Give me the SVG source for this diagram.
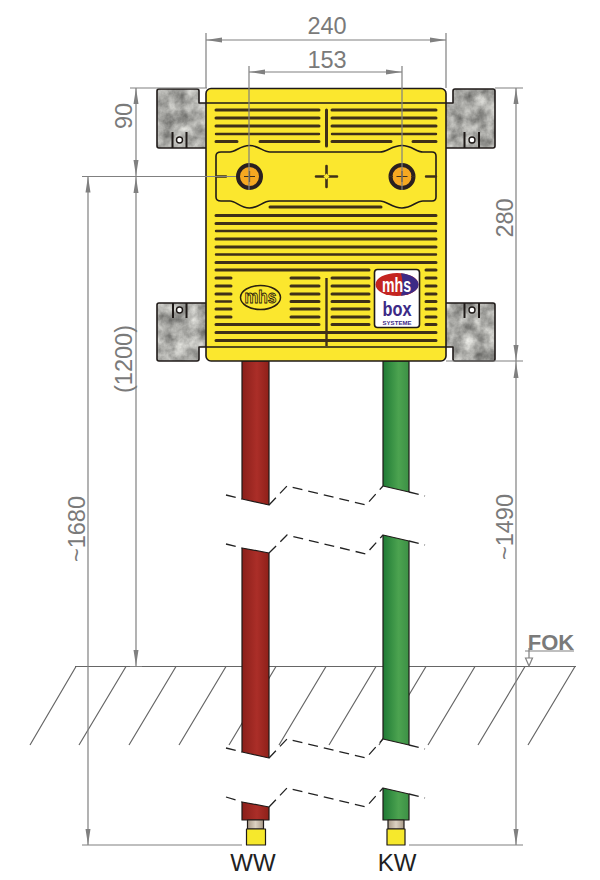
<svg xmlns="http://www.w3.org/2000/svg" width="600" height="880" viewBox="0 0 600 880">
<style>
.dim{stroke:#808080;stroke-width:1.2;fill:none}
.arrow{fill:#808080;stroke:none}
.dt{font-family:"Liberation Sans",Arial,sans-serif;font-size:23.500px;fill:#7a7a7a;text-anchor:middle}
.lb{font-family:"Liberation Sans",Arial,sans-serif;font-size:24px;fill:#222;text-anchor:middle}
.slot{stroke:#3f3018;stroke-width:3;stroke-linecap:round;fill:none}
.thin{stroke:#3f3018;stroke-width:2.4;stroke-linecap:round;fill:none}
.edge{stroke:#1f1a18;stroke-width:1.6;fill:none}
.stone{fill:#a9a8a5;stroke:none}
.blockedge{fill:none;stroke:#1f1a18;stroke-width:1.6;stroke-linejoin:round}
.hatch{stroke:#666;stroke-width:1.2;fill:none}
.cut{stroke:#222;stroke-width:1.3;stroke-dasharray:10 6;fill:none}
.pipeedge{stroke:#1f1a18;stroke-width:1.2;stroke-linejoin:round}
</style>
<defs>
<linearGradient id="red" x1="0" x2="1" y1="0" y2="0"><stop offset="0" stop-color="#8a1f1a"/><stop offset=".55" stop-color="#ab2e28"/><stop offset="1" stop-color="#8e2019"/></linearGradient>
<linearGradient id="green" x1="0" x2="1" y1="0" y2="0"><stop offset="0" stop-color="#1f7a35"/><stop offset=".6" stop-color="#4ca350"/><stop offset="1" stop-color="#3c9045"/></linearGradient>
<linearGradient id="tan" x1="0" x2="1" y1="0" y2="0"><stop offset="0" stop-color="#a89a88"/><stop offset=".5" stop-color="#dcd2c2"/><stop offset="1" stop-color="#a89a88"/></linearGradient>
<filter id="stone" x="0" y="0" width="1" height="1" color-interpolation-filters="sRGB">
<feTurbulence type="fractalNoise" baseFrequency="0.08" numOctaves="4" seed="4" result="n"/>
<feColorMatrix in="n" type="matrix" values="0.65 0 0 0 0.34 0.65 0 0 0 0.34 0.64 0 0 0 0.33 0 0 0 0 1" result="g"/>
<feComposite in="g" in2="SourceAlpha" operator="in"/>
</filter>
<path id="b1" d="M159 89H197Q199 89 199 91V103H207V148H159Q157 148 157 146V91Q157 89 159 89Z"/>
<path id="b2" d="M157 305Q157 303 159 303H207V347H199V359Q199 361 197 361H159Q157 361 157 359Z"/>
<path id="b3" d="M493 89H455Q453 89 453 91V103H445V148H493Q495 148 495 146V91Q495 89 493 89Z"/>
<path id="b4" d="M495 305Q495 303 493 303H445V347H453V359Q453 361 455 361H493Q495 361 495 359Z"/>
</defs>
<rect width="600" height="880" fill="#fff"/>

<g id="ground">
<g class="hatch">
<path d="M76 666.5L30 745M126 666.5L79 745M176 666.5L129 745M226 666.5L179 745M276 666.5L229 745M326 666.5L279 745M376 666.5L329 745M426 666.5L379 745M475 666.5L428 745M525 666.5L478 745M575 666.5L528 745"/>
<path d="M75 666.5H576"/>
</g>
</g>

<g id="pipe-ww">
<path d="M242 361H269V505L242 499Z" fill="url(#red)" class="pipeedge"/>
<path d="M242 548L269 553V758L242 752Z" fill="url(#red)" class="pipeedge"/>
<path d="M242 802L269 807V820H242Z" fill="url(#red)" class="pipeedge"/>
<rect x="247.500" y="820" width="16" height="9" fill="url(#tan)" class="pipeedge"/>
<rect x="246.500" y="829" width="19" height="16" fill="#f6e82c" class="pipeedge"/>
</g>
<g id="pipe-kw">
<path d="M383 361H409V492L383 486Z" fill="url(#green)" class="pipeedge"/>
<path d="M383 535L409 541V745L383 739Z" fill="url(#green)" class="pipeedge"/>
<path d="M383 788L409 794V820H383Z" fill="url(#green)" class="pipeedge"/>
<rect x="388" y="820" width="16" height="9" fill="url(#tan)" class="pipeedge"/>
<rect x="387" y="829" width="18" height="16" fill="#f6e82c" class="pipeedge"/>
</g>

<g id="blocks">
<use href="#b1" class="stone" filter="url(#stone)"/>
<use href="#b2" class="stone" filter="url(#stone)"/>
<use href="#b3" class="stone" filter="url(#stone)"/>
<use href="#b4" class="stone" filter="url(#stone)"/>
<use href="#b1" class="blockedge"/>
<use href="#b2" class="blockedge"/>
<use href="#b3" class="blockedge"/>
<use href="#b4" class="blockedge"/>
<g fill="none" stroke="#1f1a18" stroke-width="2">
<path d="M172.500 132V148M186.500 132V148M464.500 132V148M479 132V148M173 303V318M186.500 303V318M464.500 303V318M479 303V318"/>
</g>
<g fill="#fff" stroke="#1f1a18" stroke-width="1.4">
<circle cx="179.500" cy="140" r="3"/><circle cx="472" cy="140" r="3"/><circle cx="179.500" cy="310" r="3"/><circle cx="472" cy="310" r="3"/>
</g>
</g>

<g id="box">
<rect x="206" y="88.500" width="240" height="272.500" rx="5" fill="#fbe72e" stroke="#1f1a18" stroke-width="1.6"/>
<path class="edge" d="M206 103H446M206 347H446"/>
<path class="slot" d="M216 110H319M216 118H319M216 126H319M216 141.500H237M260 141.500H319M332 110H436M332 118H436M332 126H436M332 141.500H391M413 141.500H436"/>
<path class="thin" d="M216 134H319M332 134H436"/>
<path class="slot" d="M326.500 110V146"/>
<path class="edge" d="M221 152H230C236 152 240 145.500 249.500 145.500C259 145.500 263 152 270 152H380C387 152 392 145.500 402 145.500C412 145.500 416 152 423 152H432Q436 152 436 156V197Q436 201 432 201H423C416 201 412 208 402 208C392 208 387 201 380 201H270C263 201 259 208 249.500 208C240 208 236 201 230 201H221Q216 201 216 197V156Q216 152 221 152Z"/>
<path class="slot" d="M270 207H381"/>
<path class="thin" d="M217 176.500H226M426 176.500H436"/>
<path d="M326.500 166V187M316 176.500H337" stroke="#3f3018" stroke-width="2.6" stroke-linecap="round"/>
<path d="M326.500 173.500L329.500 176.500L326.500 179.500L323.500 176.500Z" fill="#fbe72e"/>
<circle cx="249.500" cy="176.500" r="11.500" fill="#f6a821" stroke="#2a2020" stroke-width="4"/>
<circle cx="402" cy="176.500" r="11.500" fill="#f6a821" stroke="#2a2020" stroke-width="4"/>
<path d="M244 176.500H255M249.500 171V182M396.500 176.500H407.500M402 171V182M389 176.500H393M411 176.500H415" stroke="#3f3018" stroke-width="1.200"/>
<path class="slot" d="M216 215.500H436M216 223.500H436M216 239H436M216 247H436M216 262.500H436"/>
<path class="thin" d="M216 231H436M216 254.500H436"/>
<path class="slot" d="M216 270H369M216 278H231M216 286H231M216 294H231M216 309H231M216 317H231M216 324.500H319M216 332.500H436M216 340.500H436"/>
<path class="thin" d="M216 301.500H231"/>
<path class="slot" d="M291 278H319M291 286H319M291 294H319M291 301.500H319M291 309H319M291 317H319"/>
<path class="slot" d="M332 278H369M332 286H369M332 294H369M332 301.500H369M332 309H369M332 317H369M332 324.500H369"/>
<path class="slot" d="M426 270H436M426 278H436M426 286H436M426 294H436M426 301.500H436M426 309H436M426 317H436M426 324.500H436"/>
<path d="M326.500 278V346" stroke="#3f3018" stroke-width="2.400"/>
</g>

<g id="logo-mhs">
<ellipse cx="260.500" cy="297.500" rx="20" ry="12" fill="none" stroke="#2a2010" stroke-width="1.500"/>
<text x="260.500" y="303" font-family="Liberation Sans, sans-serif" font-size="18" font-weight="bold" text-anchor="middle" textLength="32" lengthAdjust="spacingAndGlyphs" fill="#fbe72e" stroke="#2a2010" stroke-width="0.900">mhs</text>
</g>

<g id="logo-box">
<rect x="374.500" y="269.500" width="45" height="58" rx="3" fill="#fff" stroke="#1f1a18" stroke-width="1.600"/>
<ellipse cx="397" cy="284.500" rx="21.500" ry="11.500" fill="#c42420"/>
<path d="M401 273.200A21.500 11.500 0 0 1 401 295.800C403 288 403 280 401 273.200Z" fill="#3c2a86"/>
<text x="396.500" y="292" font-family="Liberation Sans, sans-serif" font-size="20" font-weight="bold" text-anchor="middle" textLength="29" lengthAdjust="spacingAndGlyphs" fill="#fff">mhs</text>
<text x="397" y="316" font-family="Liberation Sans, sans-serif" font-size="21" font-weight="bold" text-anchor="middle" textLength="29" lengthAdjust="spacingAndGlyphs" fill="#3c2a86">box</text>
<text x="397" y="325" font-family="Liberation Sans, sans-serif" font-size="6" font-weight="bold" text-anchor="middle" textLength="29" fill="#3c2a86">SYSTEME</text>
</g>

<g id="connectors">
<g class="cut">
<path d="M226 495L242 499M269 505L287 486L366 505L383 486M409 492L425 496"/>
<path d="M226 544L242 548M269 553L287 535L366 554L383 535M409 541L425 545"/>
<path d="M226 748L242 752M269 758L287 739L366 758L383 739M409 745L425 749"/>
<path d="M226 797L242 802M269 807L287 788L366 807L383 788M409 794L425 798"/>
</g>
<g class="dim">
<path d="M206 33V88M446 33V88M249 66V190M402 66V190"/>
<path d="M206 40H446M249 72H402"/>
<path d="M130 88H207M82 176.500H236M130 666.500H142M82 845H242M409 845H523"/>
<path d="M136 88V666M88 176V845"/>
<path d="M495 88H523M446 361H523M516 88V845"/>
<path d="M529 648V658"/>
<path d="M525 651H574"/>
</g>
<g class="arrow">
<path d="M206 40L222 37.500V42.500ZM446 40L430 37.500V42.500ZM249 72L265 69.500V74.500ZM402 72L386 69.500V74.500Z"/>
<path d="M136 88L133.500 104H138.500ZM136 176L133.500 160H138.500ZM136 177L133.500 193H138.500ZM136 666L133.500 650H138.500Z"/>
<path d="M88 176.500L85.500 192.500H90.500ZM88 845L85.500 829H90.500Z"/>
<path d="M516 88L513.500 104H518.500ZM516 361L513.500 345H518.500ZM516 362L513.500 378H518.500ZM516 845L513.500 829H518.500Z"/>
</g>
<path d="M529 666L525.500 658H532.500Z" fill="#fff" stroke="#808080" stroke-width="1.200"/>
</g>

<g id="labels">
<text class="dt" x="327" y="34">240</text>
<text class="dt" x="327" y="68">153</text>
<text class="dt" transform="translate(132 116) rotate(-90)">90</text>
<text class="dt" transform="translate(132 359) rotate(-90)">(1200)</text>
<text class="dt" transform="translate(85 529) rotate(-90)">~1680</text>
<text class="dt" transform="translate(513 218) rotate(-90)">280</text>
<text class="dt" transform="translate(513 527) rotate(-90)">~1490</text>
<text x="551" y="650" font-family="Liberation Sans, sans-serif" font-size="22" font-weight="bold" text-anchor="middle" fill="#7a7a7a">FOK</text>
<text class="lb" x="253" y="871">WW</text>
<text class="lb" x="397" y="871">KW</text>
</g>
</svg>
